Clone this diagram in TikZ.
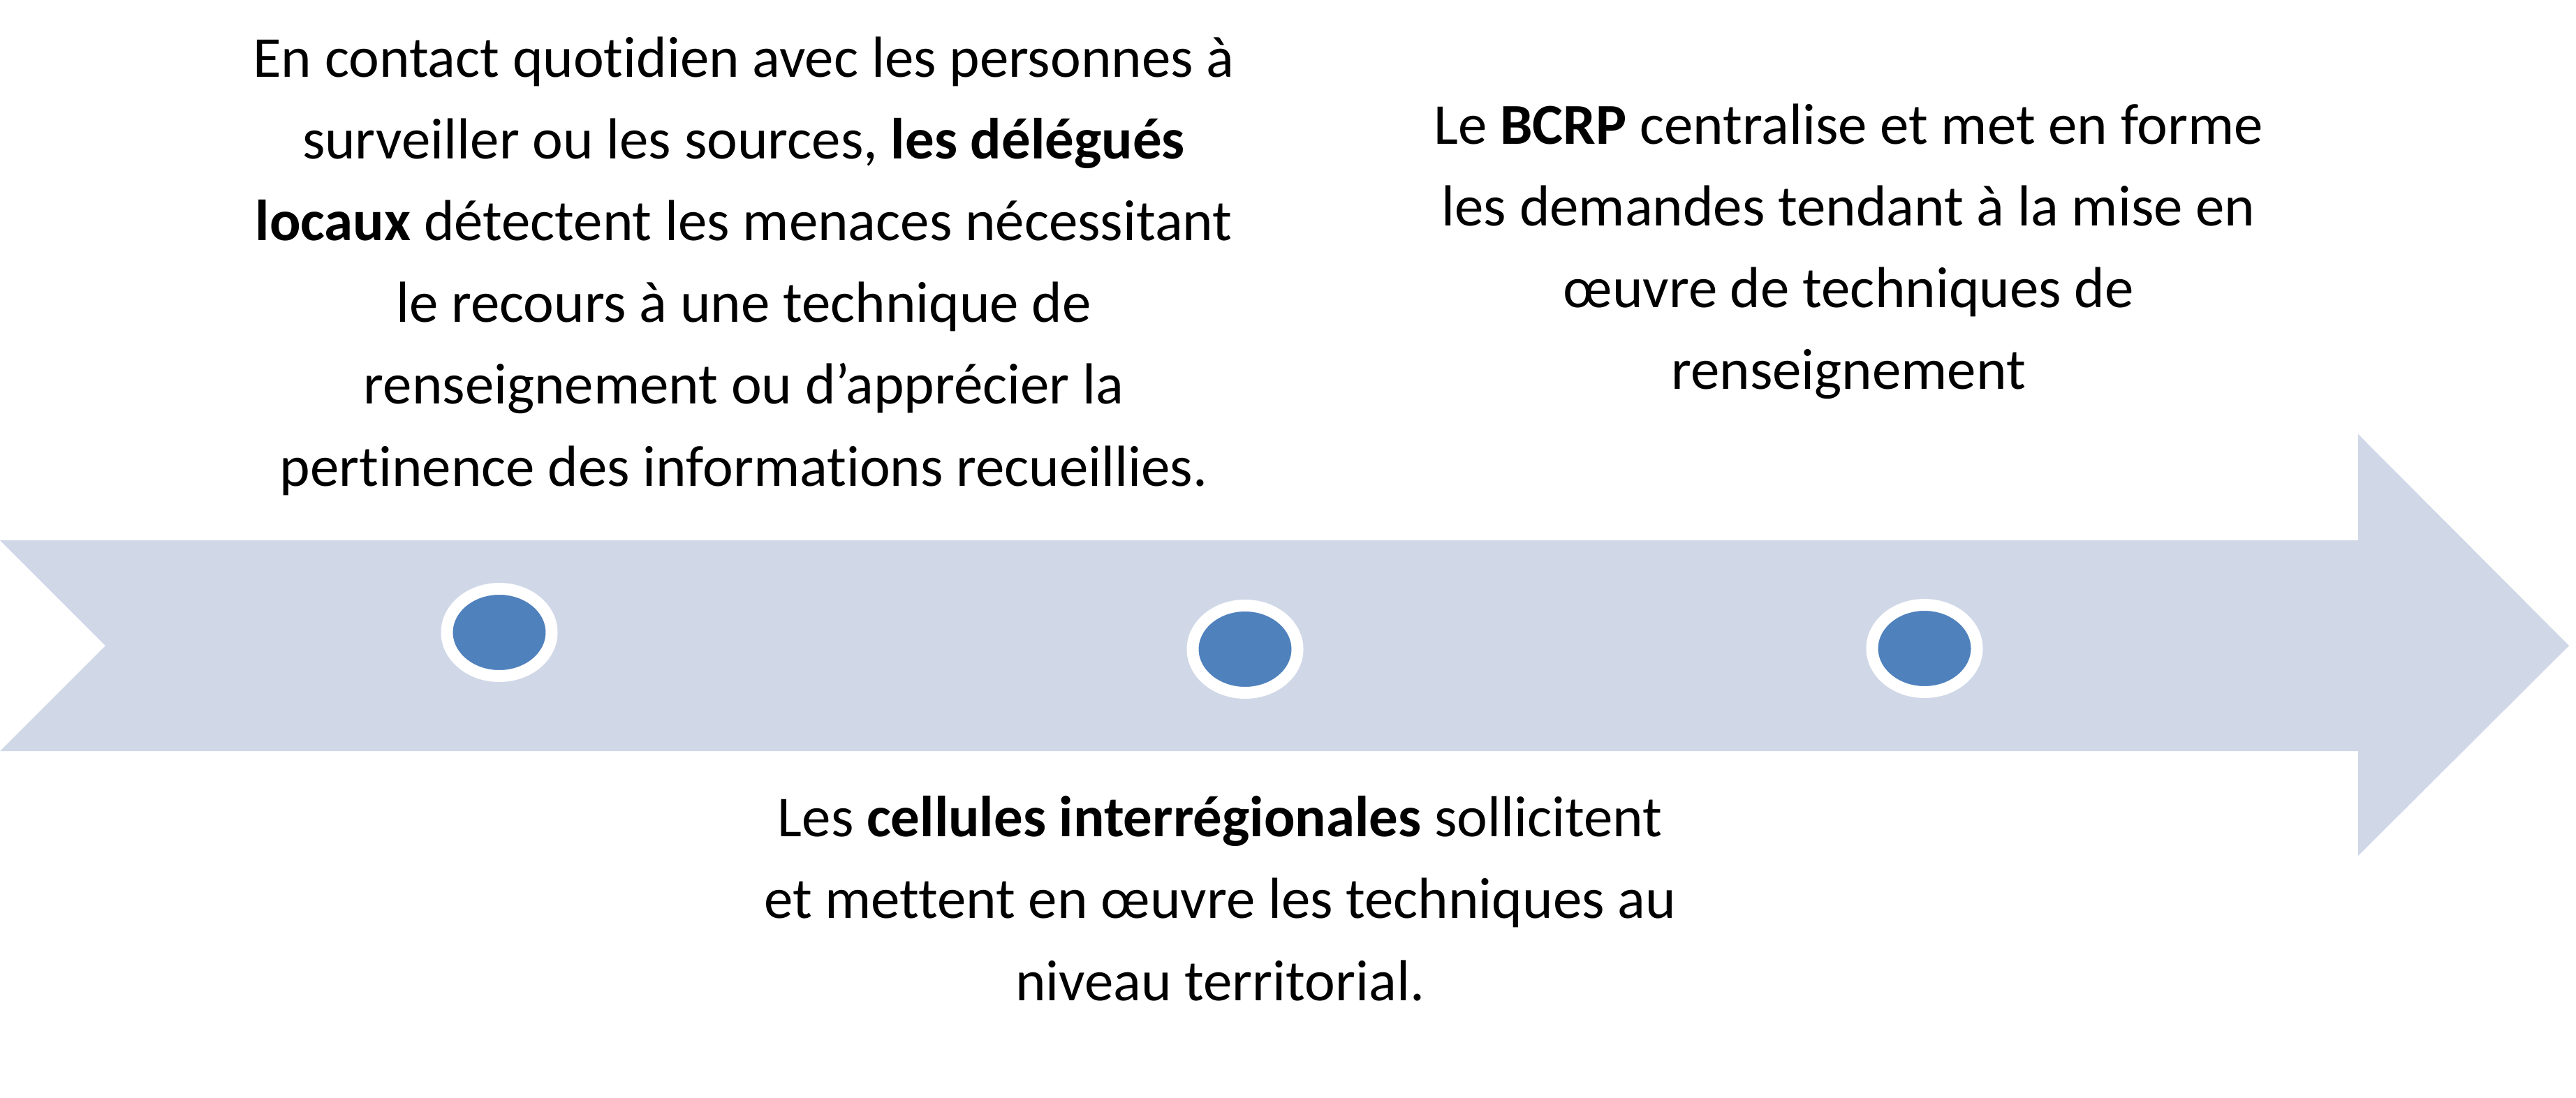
\documentclass[tikz,border=0pt]{standalone}
\usepackage{fontspec}
\setmainfont{Carlito}[Ligatures=NoCommon]
\usetikzlibrary{positioning,shapes.geometric}
\definecolor{bandblue}{RGB}{208,216,232}
\definecolor{dotblue}{RGB}{79,129,189}

\begin{document}
\begin{tikzpicture}[
  stage/.style={ellipse,fill=dotblue,draw=white,line width=0.17cm,inner sep=0pt,minimum width=1.50cm,minimum height=1.25cm},
  caption/.style={align=center,inner sep=0pt,anchor=base,font=\fontsize{23.6}{33.3}\selectfont}
]
\useasboundingbox (0,0) rectangle (36.89,15.72);

% Corners of the arrow band
\coordinate (TL) at (0,7.98);
\coordinate (ST) at (33.77,7.98);
\coordinate (HT) at (33.77,9.50);
\coordinate (Tip) at (36.79,6.47);
\coordinate (HB) at (33.77,3.46);
\coordinate (SB) at (33.77,4.96);
\coordinate (BL) at (0,4.96);
\coordinate (Notch) at (1.51,6.47);

% The arrow band
\fill[bandblue] (TL) -- (ST) -- (HT) -- (Tip) -- (HB) -- (SB) -- (BL) -- (Notch) -- cycle;

% Stages on the band
\node[stage] (local) at (7.15,6.66) {};
\node[stage] (inter) at (17.83,6.42) {};
\node[stage] (central) at (27.56,6.43) {};

% Texts (anchored at the baseline of their last line)
\node[caption] (localtext) at (10.65,8.76) {En contact quotidien avec les personnes à\\
surveiller ou les sources, \textbf{les délégués}\\
\textbf{locaux} détectent les menaces nécessitant\\
le recours à une technique de\\
renseignement ou d’apprécier la\\
pertinence des informations recueillies.};

\node[caption] (centraltext) at (26.47,10.14) {Le \textbf{BCRP} centralise et met en forme\\
les demandes tendant à la mise en\\
œuvre de techniques de\\
renseignement};

\node[caption] (intertext) at (17.47,1.39) {Les \textbf{cellules interrégionales} sollicitent\\
et mettent en œuvre les techniques au\\
niveau territorial.};

\end{tikzpicture}
\end{document}
